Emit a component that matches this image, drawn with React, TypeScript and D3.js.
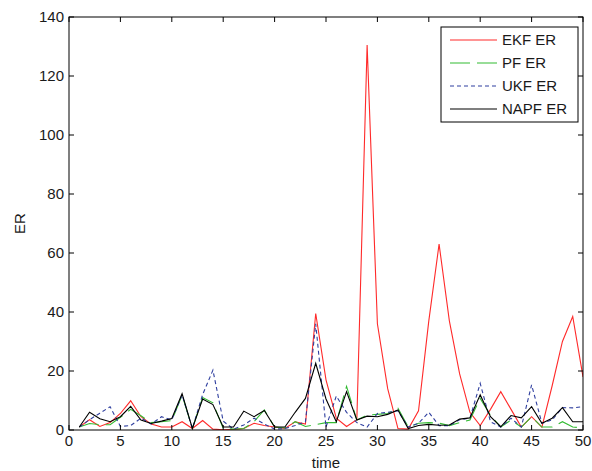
import React from "react";
import * as d3 from "d3";

const times = d3.range(1, 51);

const ekf = [1, 3.5, 1.2, 2.5, 5.6, 9.9, 4.5, 2, 1, 1, 2.8, 0.5, 3.2, 0.3, 0.1, 0.2, 0.5, 2.3, 1.5, 1, 0.5, 2.8, 2, 39.5, 17, 4, 1.2, 3.5, 130.5, 36, 14, 0.5, 0.3, 6.5, 37, 63, 37, 19, 6, 1.5, 7, 13, 7, 1, 4.5, 1, 15, 30, 38.5, 18];
const pf = [1, 2.2, 1.8, 1.8, 4.3, 7, 4.8, 2.5, 2.8, 3.2, 11.8, 0.5, 11, 9.2, 0.5, 0.3, 0.5, 2.8, 6.8, 1, 0.7, 2.8, 1.2, 1.8, 2.5, 2.5, 14.8, 3.4, 5, 5.3, 5.6, 7.4, 1, 2.3, 2.5, 2.3, 1.5, 2.5, 3.4, 10.7, 5, 1, 3.4, 1, 4.5, 1, 1, 2.8, 1, 0.7];
const ukf = [1, 3.5, 5.7, 7.9, 1.2, 1.5, 4, 2, 4.5, 3.4, 11.9, 0.5, 12, 20.3, 3, 0.3, 1.7, 4, 2, 0.3, 0.5, 1.5, 2.8, 36, 1, 11.5, 6, 2.5, 1, 5.6, 6, 6.5, 1, 2.3, 6, 1.5, 1.5, 3.5, 4, 15.8, 2.8, 1, 4, 1, 15.3, 2.3, 3.4, 7.6, 7.5, 7.9];
const napf = [1, 6, 3.8, 2.8, 4.5, 8, 3.4, 2.2, 3, 3.9, 12.3, 0.5, 10.5, 8.6, 1, 1, 6.4, 4.5, 6.6, 1, 1, 6, 10.7, 22.6, 10.5, 2.8, 13, 3.4, 4.7, 4.5, 5.3, 6.8, 0.5, 1.5, 1.9, 1.6, 1.7, 3.7, 4.1, 11.9, 4.5, 1.1, 4.9, 4.1, 7.9, 2.3, 4, 7.6, 2.8, 2.8];

const xTicks = [0, 5, 10, 15, 20, 25, 30, 35, 40, 45, 50];
const yTicks = [0, 20, 40, 60, 80, 100, 120, 140];
const seriesNames = ["EKF ER", "PF ER", "UKF ER", "NAPF ER"];

const W = 592, H = 471;
const L = 69, R = 583, T = 17, B = 430;
const FONT = "'Liberation Sans', Arial, sans-serif";

const styles = [
  { color: "#ff2a2a", dash: "" },
  { color: "#33bb33", dash: "20,7" },
  { color: "#2f3f9f", dash: "4,3" },
  { color: "#000000", dash: "" },
];

export default function App() {
  const x = d3.scaleLinear().domain([0, 50]).range([L, R]);
  const y = d3.scaleLinear().domain([0, 140]).range([B, T]);
  const line = d3
    .line<number>()
    .x((_, i) => x(times[i]))
    .y((d) => y(d));
  const data = [ekf, pf, ukf, napf];
  const tl = 5;
  const legX = 441, legY = 27, legW = 137, legH = 95;
  const rowY = [40, 63, 86, 109];

  return (
    <svg
      width={W}
      height={H}
      style={{ position: "absolute", left: 0, top: 0, background: "#fff" }}
      fontFamily={FONT}
    >
      <rect x={0} y={0} width={W} height={H} fill="#fff" />
      <defs>
        <clipPath id="plotclip">
          <rect x={L} y={T} width={R - L} height={B - T} />
        </clipPath>
      </defs>
      {/* series: draw order so black is on top */}
      <g clipPath="url(#plotclip)">
        {[0, 1, 2, 3].map((k) => (
          <path
            key={k}
            d={line(data[k]) || ""}
            fill="none"
            stroke={styles[k].color}
            strokeWidth={1.1}
            strokeDasharray={styles[k].dash || undefined}
          />
        ))}
      </g>
      {/* frame */}
      <rect x={L} y={T} width={R - L} height={B - T} fill="none" stroke="#000" strokeWidth={1} />
      {/* x ticks */}
      {xTicks.map((t) => (
        <g key={"x" + t}>
          <line x1={x(t)} x2={x(t)} y1={B} y2={B - tl} stroke="#000" />
          <line x1={x(t)} x2={x(t)} y1={T} y2={T + tl} stroke="#000" />
          <text x={x(t)} y={446} fontSize={15} textAnchor="middle" fill="#1a1a1a">
            {t}
          </text>
        </g>
      ))}
      {/* y ticks */}
      {yTicks.map((t) => (
        <g key={"y" + t}>
          <line x1={L} x2={L + tl} y1={y(t)} y2={y(t)} stroke="#000" />
          <line x1={R} x2={R - tl} y1={y(t)} y2={y(t)} stroke="#000" />
          <text x={64} y={y(t) + 5} fontSize={15} textAnchor="end" fill="#1a1a1a">
            {t}
          </text>
        </g>
      ))}
      <text x={(L + R) / 2} y={468} fontSize={15} textAnchor="middle" fill="#1a1a1a">
        time
      </text>
      <text
        transform={`translate(25, ${(T + B) / 2}) rotate(-90)`}
        fontSize={15}
        textAnchor="middle"
        fill="#1a1a1a"
      >
        ER
      </text>
      {/* legend */}
      <rect x={legX} y={legY} width={legW} height={legH} fill="#fff" stroke="#000" strokeWidth={1} />
      {seriesNames.map((n, k) => (
        <g key={n}>
          <line
            x1={450}
            x2={497}
            y1={rowY[k]}
            y2={rowY[k]}
            stroke={styles[k].color}
            strokeWidth={1.1}
            strokeDasharray={styles[k].dash || undefined}
          />
          <text x={502} y={rowY[k] + 5} fontSize={15} fill="#1a1a1a">
            {n}
          </text>
        </g>
      ))}
    </svg>
  );
}
